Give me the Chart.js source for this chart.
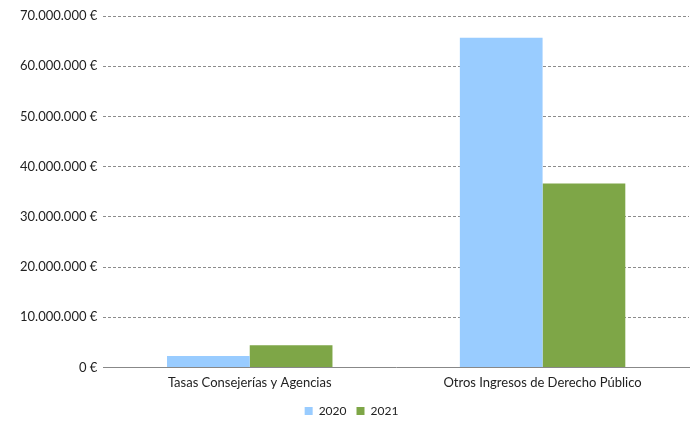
<!DOCTYPE html>
<html>
<head>
<meta charset="utf-8">
<script src="https://cdn.jsdelivr.net/npm/chart.js@4"></script>
<style>
  html, body { margin: 0; padding: 0; background: #fff; overflow: hidden; }
  #wrap { width: 690px; height: 427px; }
</style>
</head>
<body>
<div id="wrap"><canvas id="canvas"></canvas></div>
<script>
const categories = ['Tasas Consejerías y Agencias', 'Otros Ingresos de Derecho Público'];
const values2020 = [2250000, 65650000];
const values2021 = [4400000, 36650000];

function euro(v) {
    return String(Math.round(v)).replace(/\B(?=(\d{3})+(?!\d))/g, '.') + ' €';
}

function handleChart() {
    const ctx = document.getElementById('canvas').getContext('2d');
    const myChart = new Chart(ctx, {
        type: 'bar',
        data: {
            labels: categories,
            datasets: [{
                label: '2020',
                data: values2020,
                backgroundColor: '#99ccff',
                barPercentage: 1,
                categoryPercentage: 0.565
            },
            {
                label: '2021',
                data: values2021,
                backgroundColor: '#7ea647',
                barPercentage: 1,
                categoryPercentage: 0.565
            }]
        },
        options: {
            responsive: true,
            maintainAspectRatio: false,
            animation: false,
            layout: { padding: { top: 16, right: 1, left: 14, bottom: 0 } },
            plugins: {
                tooltip: { enabled: false },
                legend: {
                    position: 'bottom',
                    labels: {
                        boxWidth: 8,
                        boxHeight: 8,
                        padding: 10,
                        color: '#222',
                        font: { family: 'Lato', size: 12 }
                    }
                }
            },
            scales: {
                x: {
                    grid: { display: false },
                    border: { display: true, color: '#888', width: 1 },
                    ticks: { color: '#222', padding: 0, font: { family: 'Lato', size: 13 } },
                    afterFit: function (scale) { scale.height += 4; }
                },
                y: {
                    min: 0,
                    max: 70000000,
                    grid: { color: '#8c8c8c', lineWidth: 1, drawTicks: false },
                    border: { display: false, dash: [3, 2] },
                    ticks: {
                        stepSize: 10000000,
                        color: '#222',
                        padding: 6,
                        font: { family: 'Lato', size: 13 },
                        callback: function (v) { return euro(v); }
                    }
                }
            }
        }
    });
}

handleChart();
</script>
</body>
</html>
